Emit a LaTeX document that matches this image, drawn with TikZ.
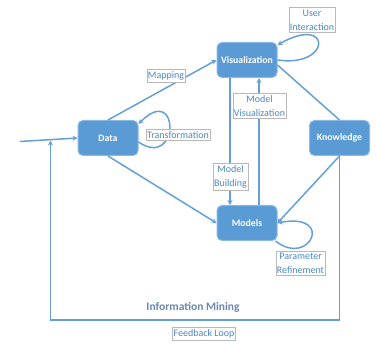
\documentclass[tikz,border=0pt]{standalone}
\usepackage{fontspec}
\setmainfont{Carlito}
\usetikzlibrary{arrows.meta}

\definecolor{stageblue}{RGB}{91,155,213}
\definecolor{stageedge}{RGB}{140,185,225}
\definecolor{flowblue}{RGB}{100,160,215}
\definecolor{tagtext}{RGB}{75,135,200}
\definecolor{tagedge}{RGB}{185,185,185}
\definecolor{minetext}{RGB}{105,135,175}

\tikzset{
  stage/.style={draw=stageedge, line width=1pt, fill=stageblue, rounded corners=5pt, minimum width=60pt, minimum height=35pt, text=white, font=\bfseries\fontsize{9.8}{11}\selectfont},
  tag/.style={draw=tagedge, line width=0.6pt, fill=white, text=tagtext, inner xsep=1pt, inner ysep=2pt, align=center, font=\fontsize{10}{14}\selectfont},
  flow/.style={draw=flowblue, line width=1.5pt},
  flowtip/.style={-{Stealth[length=5pt,width=5pt]}},
}

\begin{document}
\begin{tikzpicture}[x=1pt,y=1pt,yscale=-1]
\useasboundingbox (0,0) rectangle (377,344);

%Shape: stages
\node[stage] (vis) at (247,60) {Visualization};
\node[stage] (data) at (108,138) {Data};
\node[stage] (know) at (339.5,138) {Knowledge};
\node[stage] (models) at (247,223) {Models};

%free ends of the input and the feedback loop
\coordinate (src) at (20,141.5);
\coordinate (fbcorner) at (50.5,320);
\coordinate (fbend) at (50.5,140.5);

%Straight Lines
\draw[flow, flowtip] (src) -- (data.west);
\draw[flow, flowtip] (know.south) |- (fbcorner) -- (fbend);
\draw[flow, flowtip] (data.north) -- (vis.west);
\draw[flow, flowtip] (data.south) -- (models.west);
\draw[flow, flowtip] ([xshift=-17pt]vis.south) -- ([xshift=-17pt]models.north);
\draw[flow, flowtip] ([xshift=12pt]models.north) -- ([xshift=12pt]vis.south);
\draw[flow] ([yshift=5pt]vis.east) -- (know.north);
\draw[flow, flowtip] (know.south) -- (models.east);

%Curves: self loops (yscale=-1, so yshift counts downwards)
\draw[flow, flowtip] ([yshift=4pt]data.east) .. controls (180,170) and (180,82) .. ([yshift=-14pt]data.east);
\draw[flow, flowtip] (vis.east) .. controls (332,68) and (332,14) .. ([yshift=-15pt]vis.east);
\draw[flow, flowtip] ([xshift=-2pt]models.south east) .. controls (310,268) and (335,212) .. (models.east);

% Text Node
\node[tag] (interaction) at (312,20) {User\\Interaction};
\node[tag] (mapping) at (166,76) {Mapping};
\node[tag] (transform) at (178,135) {Transformation};
\node[tag] (modvis) at (259.5,106) {Model\\Visualization};
\node[tag] (modbuild) at (230.5,176.5) {Model\\Building};
\node[tag] (refine) at (300.5,263.5) {Parameter\\Refinement};
\node[tag] (feedback) at (204,334) {Feedback Loop};
\node[font=\bfseries\fontsize{11.5}{13}\selectfont, text=minetext] (mining) at (193,307) {Information Mining};

\end{tikzpicture}
\end{document}
